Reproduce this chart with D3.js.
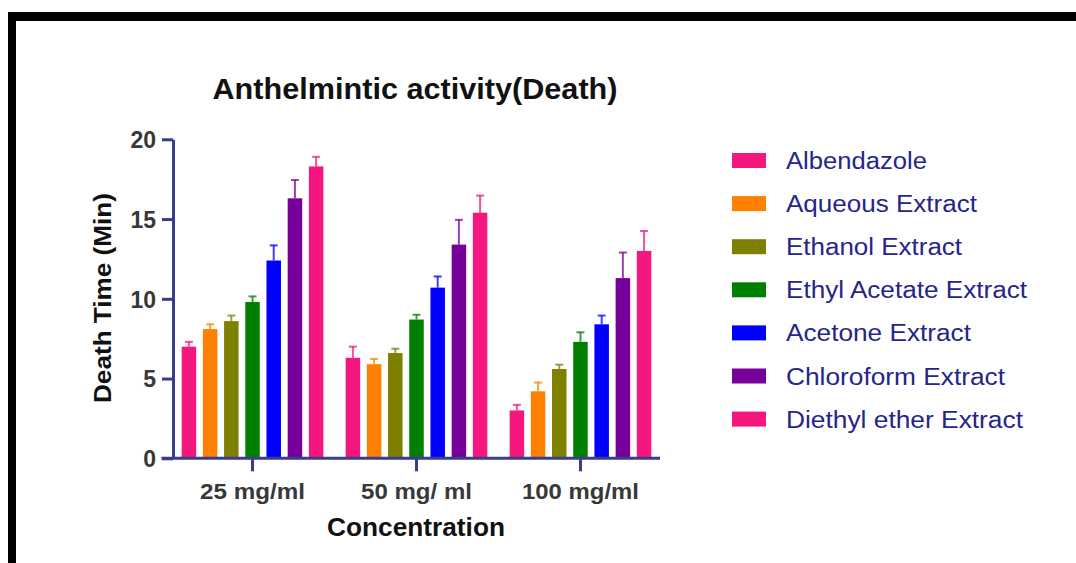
<!DOCTYPE html>
<html><head><meta charset="utf-8">
<script src="https://cdn.jsdelivr.net/npm/d3@7"></script>
<style>body{margin:0;background:#fff}svg{display:block}text{font-family:"Liberation Sans",Arial,sans-serif}</style>
</head><body>
<svg id="c" width="1076" height="563"></svg>
<script>
const categories = ["25 mg/ml", "50 mg/ ml", "100 mg/ml"];
const seriesNames = ["Albendazole", "Aqueous Extract", "Ethanol Extract", "Ethyl Acetate Extract", "Acetone Extract", "Chloroform Extract", "Diethyl ether Extract"];
const seriesColors = ["#f5167e", "#ff8000", "#808000", "#008000", "#0000ff", "#78009a", "#f5167e"];
// mean values per series across the three concentrations
const albendazole = [7.0, 6.3, 3.0];
const aqueous = [8.1, 5.9, 4.2];
const ethanol = [8.6, 6.6, 5.6];
const ethylAcetate = [9.8, 8.7, 7.3];
const acetone = [12.4, 10.7, 8.4];
const chloroform = [16.3, 13.4, 11.3];
const diethylEther = [18.3, 15.4, 13.0];
// error bar (SD) per series
const albendazoleErr = [0.3, 0.7, 0.35];
const aqueousErr = [0.3, 0.33, 0.55];
const ethanolErr = [0.35, 0.27, 0.27];
const ethylAcetateErr = [0.35, 0.3, 0.6];
const acetoneErr = [0.95, 0.7, 0.55];
const chloroformErr = [1.15, 1.55, 1.6];
const diethylEtherErr = [0.6, 1.07, 1.25];
const yTicks = [0, 5, 10, 15, 20];

const values = [albendazole, aqueous, ethanol, ethylAcetate, acetone, chloroform, diethylEther];
const errs = [albendazoleErr, aqueousErr, ethanolErr, ethylAcetateErr, acetoneErr, chloroformErr, diethylEtherErr];

const svg = d3.select("#c");
const axisColor = "#3a3c8c";

// frame
svg.append("rect").attr("x", 8).attr("y", 12).attr("width", 1100).attr("height", 600).attr("fill", "#000");
svg.append("rect").attr("x", 16).attr("y", 21).attr("width", 1100).attr("height", 600).attr("fill", "#fff");

const x0 = d3.scaleBand().domain(categories).range([173, 660]).paddingInner(0.095).paddingOuter(0.0325);
const x1 = d3.scaleBand().domain(seriesNames).range([0, x0.bandwidth()]).paddingInner(0.316).paddingOuter(0.158);
const y = d3.scaleLinear().domain([0, 20]).range([458.3, 139.3]);

const data = [];
categories.forEach((c, ci) => seriesNames.forEach((s, si) => data.push({c, s, si, v: values[si][ci], e: errs[si][ci]})));

const g = svg.append("g");
// error bars
const eb = g.selectAll("g.eb").data(data).join("g").attr("class", "eb");
eb.append("line")
  .attr("x1", d => x0(d.c) + x1(d.s) + x1.bandwidth() / 2)
  .attr("x2", d => x0(d.c) + x1(d.s) + x1.bandwidth() / 2)
  .attr("y1", d => y(d.v)).attr("y2", d => y(d.v + d.e))
  .attr("stroke", d => seriesColors[d.si]).attr("stroke-width", 2).attr("opacity", 0.75);
eb.append("line")
  .attr("x1", d => x0(d.c) + x1(d.s) + x1.bandwidth() / 2 - 4)
  .attr("x2", d => x0(d.c) + x1(d.s) + x1.bandwidth() / 2 + 4)
  .attr("y1", d => y(d.v + d.e)).attr("y2", d => y(d.v + d.e))
  .attr("stroke", d => seriesColors[d.si]).attr("stroke-width", 2).attr("opacity", 0.75);
// bars
g.selectAll("rect.bar").data(data).join("rect").attr("class", "bar")
  .attr("x", d => x0(d.c) + x1(d.s)).attr("width", x1.bandwidth())
  .attr("y", d => y(d.v)).attr("height", d => y(0) - y(d.v))
  .attr("fill", d => seriesColors[d.si]);

// axes
const yAxis = svg.append("g").attr("transform", "translate(173,0)")
  .call(d3.axisLeft(y).tickValues(yTicks).tickSize(11).tickSizeOuter(0).tickPadding(6));
const xAxis = svg.append("g").attr("transform", "translate(0,458.3)")
  .call(d3.axisBottom(x0).tickSize(13).tickSizeOuter(0).tickPadding(12));
[yAxis, xAxis].forEach(a => {
  a.select(".domain").attr("stroke", axisColor).attr("stroke-width", 3);
  a.selectAll(".tick line").attr("stroke", axisColor).attr("stroke-width", 3);
});
xAxis.select(".domain").attr("d", "M161.5,0H660");
yAxis.selectAll(".tick text").attr("fill", "#383838").attr("font-size", 23).attr("font-weight", "bold").attr("dy", "0.36em");
xAxis.selectAll(".tick text").attr("fill", "#383838").attr("font-size", 22).attr("font-weight", "bold").attr("dy", "0.72em")
  .attr("textLength", d => ({"25 mg/ml": 105, "50 mg/ ml": 111, "100 mg/ml": 117})[d]).attr("lengthAdjust", "spacingAndGlyphs");

// titles
svg.append("text").attr("x", 415).attr("y", 99).attr("text-anchor", "middle")
  .attr("font-size", 29).attr("font-weight", "bold").attr("fill", "#111")
  .attr("textLength", 405).attr("lengthAdjust", "spacingAndGlyphs")
  .text("Anthelmintic activity(Death)");
svg.append("text").attr("x", 416).attr("y", 536).attr("text-anchor", "middle")
  .attr("font-size", 26).attr("font-weight", "bold").attr("fill", "#111")
  .attr("textLength", 178).attr("lengthAdjust", "spacingAndGlyphs")
  .text("Concentration");
svg.append("text").attr("transform", "translate(111,298) rotate(-90)").attr("text-anchor", "middle")
  .attr("font-size", 23).attr("font-weight", "bold").attr("fill", "#111")
  .attr("textLength", 210).attr("lengthAdjust", "spacingAndGlyphs")
  .text("Death Time (Min)");

// legend
const legendWidths = [141, 191, 176, 241, 185, 219, 237];
const lg = svg.append("g").selectAll("g").data(seriesNames).join("g")
  .attr("transform", (d, i) => `translate(732,${160.5 + i * 43.1})`);
lg.append("rect").attr("x", 0).attr("y", -7.5).attr("width", 34).attr("height", 15)
  .attr("fill", (d, i) => seriesColors[i]);
lg.append("text").attr("x", 54).attr("y", 8.5).attr("font-size", 23).attr("fill", "#25258a")
  .attr("textLength", (d, i) => legendWidths[i]).attr("lengthAdjust", "spacingAndGlyphs")
  .text(d => d);
</script>
</body></html>
